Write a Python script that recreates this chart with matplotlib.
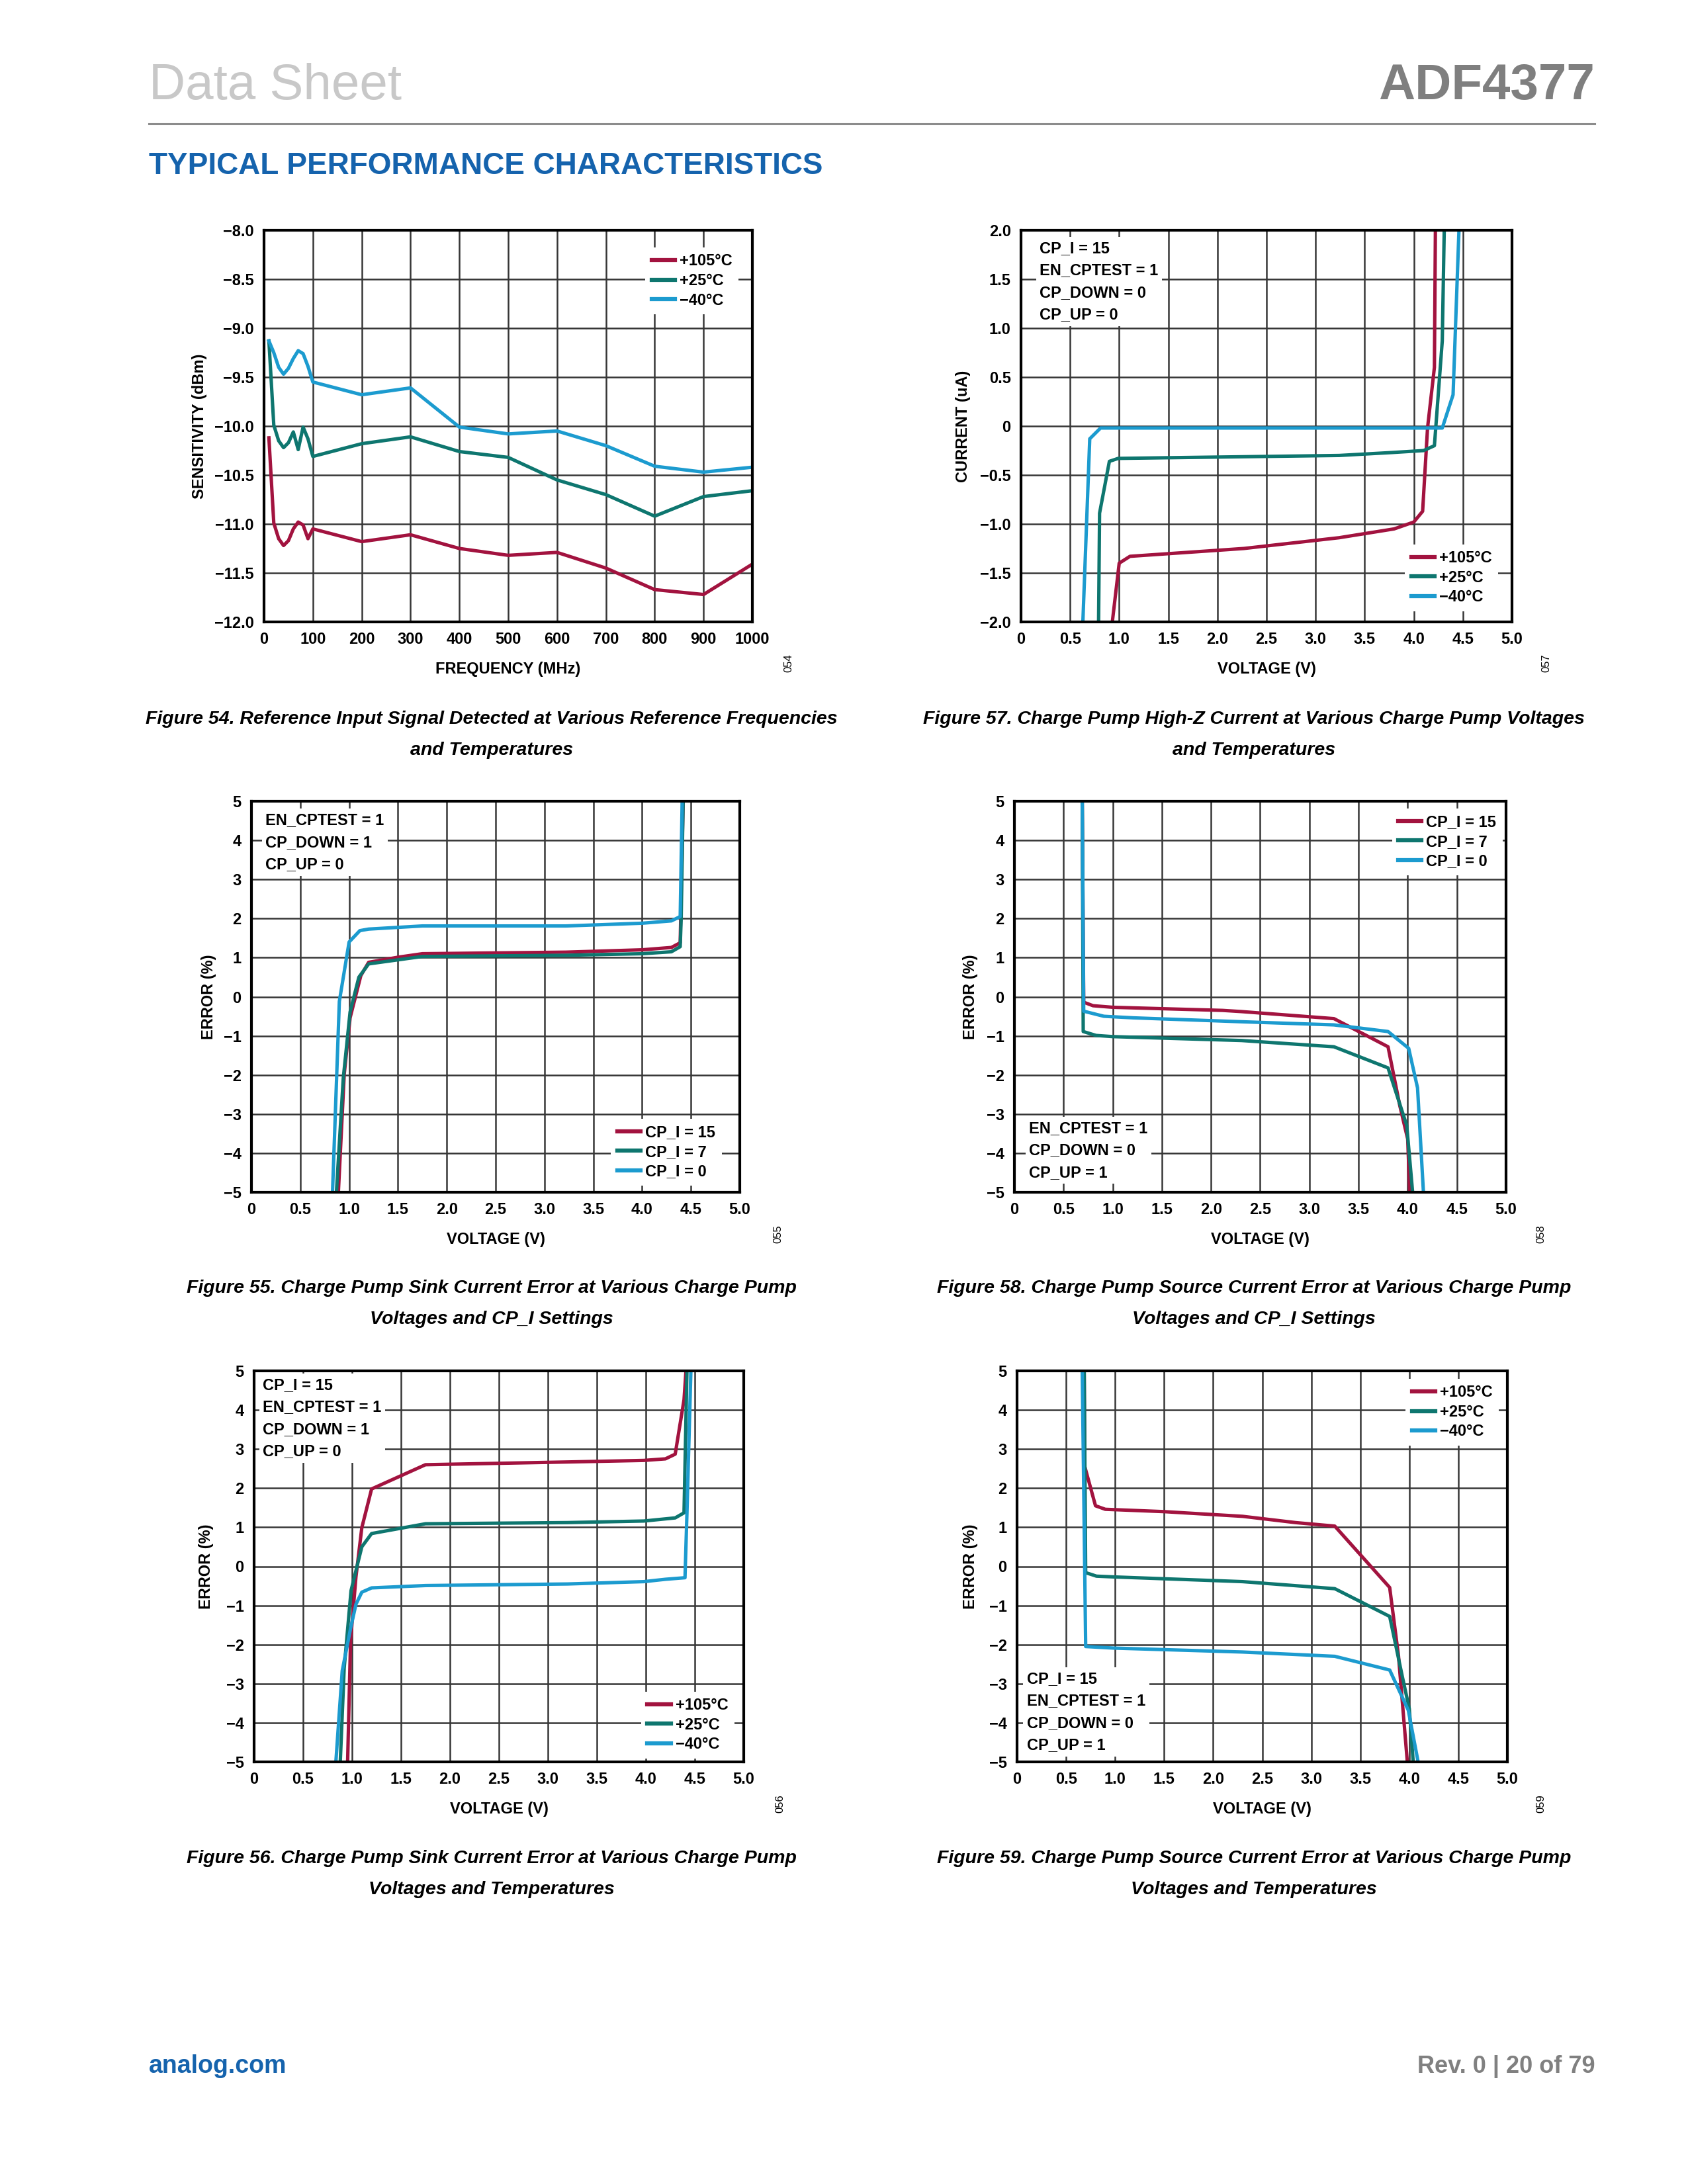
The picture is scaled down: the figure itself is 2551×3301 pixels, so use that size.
import matplotlib
matplotlib.use('Agg')
import matplotlib.pyplot as plt

plt.rcParams['font.family'] = ['Liberation Sans', 'DejaVu Sans']

W, H = 2551, 3301

RED = '#A2133F'
TEAL = '#0E766F'
BLUE = '#1C9BCF'
ADI_BLUE = '#1563AD'

# ---------- Figure 54: sensitivity vs reference frequency ----------
f54_freq = [10, 20, 30, 40, 50, 60, 70, 80, 90, 100, 200, 300, 400, 500, 600, 700, 800, 900, 1000]
f54_hot = [-10.12, -10.99, -11.15, -11.22, -11.17, -11.05, -10.98, -11.01, -11.15, -11.05,
           -11.18, -11.11, -11.25, -11.32, -11.29, -11.45, -11.67, -11.72, -11.41]
f54_room = [-9.13, -9.99, -10.15, -10.22, -10.17, -10.06, -10.24, -10.01, -10.13, -10.31,
            -10.18, -10.11, -10.26, -10.32, -10.55, -10.70, -10.92, -10.72, -10.66]
f54_cold = [-9.13, -9.25, -9.40, -9.47, -9.41, -9.31, -9.23, -9.26, -9.39, -9.55,
            -9.68, -9.61, -10.01, -10.08, -10.05, -10.20, -10.41, -10.47, -10.42]

# ---------- Figure 57: high-Z current vs voltage ----------
f57_hot_v = [0.93, 1.00, 1.11, 2.27, 3.24, 3.80, 4.00, 4.09, 4.14, 4.21, 4.22]
f57_hot_i = [-2.0, -1.40, -1.33, -1.25, -1.14, -1.05, -0.98, -0.87, -0.02, 0.60, 2.0]
f57_room_v = [0.79, 0.80, 0.90, 0.99, 3.24, 3.78, 4.10, 4.21, 4.29, 4.31]
f57_room_i = [-2.0, -0.89, -0.36, -0.33, -0.30, -0.27, -0.25, -0.20, 0.87, 2.0]
f57_cold_v = [0.63, 0.70, 0.81, 4.29, 4.40, 4.46]
f57_cold_i = [-2.0, -0.13, -0.02, -0.02, 0.32, 2.0]

# ---------- Figure 55: sink current error vs voltage, CP_I ----------
f55_cp15_v = [0.89, 0.95, 1.01, 1.12, 1.20, 1.50, 1.75, 3.22, 4.00, 4.30, 4.39, 4.42]
f55_cp15_e = [-5, -1.98, -0.54, 0.54, 0.88, 1.01, 1.10, 1.14, 1.20, 1.26, 1.38, 5]
f55_cp7_v = [0.87, 0.94, 1.01, 1.10, 1.20, 1.75, 3.22, 4.00, 4.30, 4.39, 4.40, 4.42]
f55_cp7_e = [-5, -2.09, -0.39, 0.50, 0.84, 1.03, 1.06, 1.10, 1.15, 1.28, 2.0, 5]
f55_cp0_v = [0.83, 0.90, 1.00, 1.11, 1.20, 1.75, 3.22, 4.00, 4.30, 4.39, 4.41]
f55_cp0_e = [-5, -0.12, 1.40, 1.69, 1.73, 1.81, 1.81, 1.88, 1.94, 2.05, 5]

# ---------- Figure 58: source current error vs voltage, CP_I ----------
f58_cp15_v = [0.69, 0.705, 0.80, 1.00, 2.12, 2.31, 3.25, 3.80, 3.92, 4.00, 4.02]
f58_cp15_e = [5, -0.14, -0.23, -0.27, -0.35, -0.38, -0.56, -1.28, -2.79, -3.64, -5]
f58_cp7_v = [0.69, 0.70, 0.83, 1.00, 2.31, 3.25, 3.80, 3.99, 4.05]
f58_cp7_e = [5, -0.89, -0.99, -1.02, -1.12, -1.28, -1.82, -3.29, -5]
f58_cp0_v = [0.69, 0.705, 0.91, 1.21, 2.31, 3.25, 3.80, 4.01, 4.10, 4.16]
f58_cp0_e = [5, -0.37, -0.50, -0.54, -0.64, -0.72, -0.89, -1.32, -2.33, -5]

# ---------- Figure 56: sink current error vs voltage, temperature ----------
f56_hot_v = [0.955, 0.985, 1.04, 1.10, 1.20, 1.75, 3.20, 3.98, 4.20, 4.30, 4.39, 4.41]
f56_hot_e = [-5, -1.90, -0.27, 0.99, 1.98, 2.60, 2.67, 2.71, 2.75, 2.87, 4.26, 5]
f56_room_v = [0.88, 0.92, 0.99, 1.10, 1.20, 1.75, 3.20, 3.98, 4.30, 4.39, 4.42]
f56_room_e = [-5, -2.60, -0.62, 0.50, 0.84, 1.09, 1.12, 1.16, 1.24, 1.37, 5]
f56_cold_v = [0.835, 0.90, 0.985, 1.04, 1.10, 1.20, 1.75, 3.20, 3.98, 4.20, 4.40, 4.42, 4.46]
f56_cold_e = [-5, -2.67, -1.59, -0.97, -0.66, -0.55, -0.49, -0.45, -0.39, -0.33, -0.29, 1.36, 5]

# ---------- Figure 59: source current error vs voltage, temperature ----------
f59_hot_v = [0.685, 0.69, 0.80, 0.90, 1.50, 2.30, 2.84, 3.24, 3.80, 3.89, 3.98]
f59_hot_e = [5, 2.56, 1.55, 1.46, 1.40, 1.28, 1.12, 1.03, -0.54, -2.29, -5]
f59_room_v = [0.685, 0.70, 0.81, 0.99, 2.30, 3.24, 3.80, 3.93, 4.00, 4.04]
f59_room_e = [5, -0.16, -0.25, -0.27, -0.39, -0.57, -1.28, -2.83, -3.64, -5]
f59_cold_v = [0.665, 0.70, 0.99, 2.30, 3.24, 3.80, 3.99, 4.09]
f59_cold_e = [5, -2.05, -2.09, -2.19, -2.30, -2.65, -3.68, -5]

# tick values / labels
freq_ticks = [0, 100, 200, 300, 400, 500, 600, 700, 800, 900, 1000]
freq_labels = ['0', '100', '200', '300', '400', '500', '600', '700', '800', '900', '1000']
sens_ticks = [-12.0, -11.5, -11.0, -10.5, -10.0, -9.5, -9.0, -8.5, -8.0]
sens_labels = ['\u221212.0', '\u221211.5', '\u221211.0', '\u221210.5', '\u221210.0',
               '\u22129.5', '\u22129.0', '\u22128.5', '\u22128.0']
volt_ticks = [0, 0.5, 1.0, 1.5, 2.0, 2.5, 3.0, 3.5, 4.0, 4.5, 5.0]
volt_labels = ['0', '0.5', '1.0', '1.5', '2.0', '2.5', '3.0', '3.5', '4.0', '4.5', '5.0']
cur_ticks = [-2.0, -1.5, -1.0, -0.5, 0, 0.5, 1.0, 1.5, 2.0]
cur_labels = ['\u22122.0', '\u22121.5', '\u22121.0', '\u22120.5', '0', '0.5', '1.0', '1.5', '2.0']
err_ticks = [-5, -4, -3, -2, -1, 0, 1, 2, 3, 4, 5]
err_labels = ['\u22125', '\u22124', '\u22123', '\u22122', '\u22121', '0', '1', '2', '3', '4', '5']

temp_names = ['+105\u00b0C', '+25\u00b0C', '\u221240\u00b0C']
cpi_names = ['CP_I = 15', 'CP_I = 7', 'CP_I = 0']

FS = 17
LW = 3.7


def rect(x0, y0, x1, y1):
    return [x0 / W, 1 - y1 / H, (x1 - x0) / W, (y1 - y0) / H]


def setup(ax, xt, xl, yt, yl, xlabel, ylabel, ylx, xly=-0.102):
    ax.set_xlim(xt[0], xt[-1])
    ax.set_ylim(yt[0], yt[-1])
    ax.set_xticks(xt)
    ax.set_xticklabels(xl)
    ax.set_yticks(yt)
    ax.set_yticklabels(yl)
    ax.grid(True, color='#363636', lw=1.8)
    ax.set_axisbelow(True)
    ax.tick_params(length=0, pad=11, labelsize=FS)
    for lab in ax.get_xticklabels() + ax.get_yticklabels():
        lab.set_fontweight('bold')
    for s in ax.spines.values():
        s.set_linewidth(3.0)
        s.set_zorder(6)
    ax.set_xlabel(xlabel, fontsize=FS, fontweight='bold')
    ax.set_ylabel(ylabel, fontsize=FS, fontweight='bold')
    ax.xaxis.set_label_coords(0.5, xly)
    ax.yaxis.set_label_coords(ylx, 0.5)


def legend(ax, loc, anchor):
    leg = ax.legend(loc=loc, bbox_to_anchor=anchor, frameon=True, facecolor='white',
                    edgecolor='none', framealpha=1, fancybox=False, handlelength=1.5,
                    handletextpad=0.3, labelspacing=0.28, borderpad=0.4, borderaxespad=0,
                    prop={'size': FS, 'weight': 'bold'})
    for h in leg.get_lines():
        h.set_linewidth(4.5)


def note(ax, x, y, lines):
    ax.text(x, y, '\n'.join(lines), transform=ax.transAxes, ha='left', va='top',
            fontsize=FS, fontweight='bold', linespacing=1.58,
            bbox=dict(fc='white', ec='none', pad=4))


fig = plt.figure(figsize=(W / 100, H / 100), dpi=100)

# header
fig.text(225 / W, 1 - 150 / H, 'Data Sheet', fontsize=55, color='#c8c8c8', va='baseline')
fig.text(2410 / W, 1 - 150 / H, 'ADF4377', fontsize=55, color='#7f7f7f', fontweight='bold',
         ha='right', va='baseline')
fig.add_artist(plt.Line2D([225 / W, 2410 / W], [1 - 187 / H, 1 - 187 / H], color='#8c8c8c', lw=2.2))
fig.text(225 / W, 1 - 263 / H, 'TYPICAL PERFORMANCE CHARACTERISTICS', fontsize=33,
         color=ADI_BLUE, fontweight='bold', va='baseline')

# footer
fig.text(225 / W, 1 - 3133 / H, 'analog.com', fontsize=27, color=ADI_BLUE, fontweight='bold',
         va='baseline')
fig.text(2411 / W, 1 - 3133 / H, 'Rev. 0 | 20 of 79', fontsize=26, color='#808080',
         fontweight='bold', ha='right', va='baseline')

# Figure 54
ax = fig.add_axes(rect(399, 348, 1137, 940))
ax.plot(f54_freq, f54_hot, color=RED, lw=LW, label=temp_names[0])
ax.plot(f54_freq, f54_room, color=TEAL, lw=LW, label=temp_names[1])
ax.plot(f54_freq, f54_cold, color=BLUE, lw=LW, label=temp_names[2])
setup(ax, freq_ticks, freq_labels, sens_ticks, sens_labels, 'FREQUENCY (MHz)',
      'SENSITIVITY (dBm)', -0.117)
legend(ax, 'upper right', (0.972, 0.956))

# Figure 57
ax = fig.add_axes(rect(1543, 348, 2285, 940))
ax.plot(f57_hot_v, f57_hot_i, color=RED, lw=LW, label=temp_names[0])
ax.plot(f57_room_v, f57_room_i, color=TEAL, lw=LW, label=temp_names[1])
ax.plot(f57_cold_v, f57_cold_i, color=BLUE, lw=LW, label=temp_names[2])
setup(ax, volt_ticks, volt_labels, cur_ticks, cur_labels, 'VOLTAGE (V)', 'CURRENT (uA)', -0.102)
legend(ax, 'lower right', (0.972, 0.0275))
note(ax, 0.038, 0.973, ['CP_I = 15', 'EN_CPTEST = 1', 'CP_DOWN = 0', 'CP_UP = 0'])

# Figure 55
ax = fig.add_axes(rect(380, 1211, 1118, 1802))
ax.plot(f55_cp15_v, f55_cp15_e, color=RED, lw=LW, label=cpi_names[0])
ax.plot(f55_cp7_v, f55_cp7_e, color=TEAL, lw=LW, label=cpi_names[1])
ax.plot(f55_cp0_v, f55_cp0_e, color=BLUE, lw=LW, label=cpi_names[2])
setup(ax, volt_ticks, volt_labels, err_ticks, err_labels, 'VOLTAGE (V)', 'ERROR (%)', -0.072)
legend(ax, 'lower right', (0.963, 0.0175))
note(ax, 0.029, 0.971, ['EN_CPTEST = 1', 'CP_DOWN = 1', 'CP_UP = 0'])

# Figure 58
ax = fig.add_axes(rect(1533, 1211, 2276, 1802))
ax.plot(f58_cp15_v, f58_cp15_e, color=RED, lw=LW, label=cpi_names[0])
ax.plot(f58_cp7_v, f58_cp7_e, color=TEAL, lw=LW, label=cpi_names[1])
ax.plot(f58_cp0_v, f58_cp0_e, color=BLUE, lw=LW, label=cpi_names[2])
setup(ax, volt_ticks, volt_labels, err_ticks, err_labels, 'VOLTAGE (V)', 'ERROR (%)', -0.074)
legend(ax, 'upper right', (0.993, 0.982))
note(ax, 0.030, 0.183, ['EN_CPTEST = 1', 'CP_DOWN = 0', 'CP_UP = 1'])

# Figure 56
ax = fig.add_axes(rect(384, 2072, 1124, 2663))
ax.plot(f56_hot_v, f56_hot_e, color=RED, lw=LW, label=temp_names[0])
ax.plot(f56_room_v, f56_room_e, color=TEAL, lw=LW, label=temp_names[1])
ax.plot(f56_cold_v, f56_cold_e, color=BLUE, lw=LW, label=temp_names[2])
setup(ax, volt_ticks, volt_labels, err_ticks, err_labels, 'VOLTAGE (V)', 'ERROR (%)', -0.082)
legend(ax, 'lower right', (0.981, 0.009))
note(ax, 0.018, 0.983, ['CP_I = 15', 'EN_CPTEST = 1', 'CP_DOWN = 1', 'CP_UP = 0'])

# Figure 59
ax = fig.add_axes(rect(1537, 2072, 2278, 2663))
ax.plot(f59_hot_v, f59_hot_e, color=RED, lw=LW, label=temp_names[0])
ax.plot(f59_room_v, f59_room_e, color=TEAL, lw=LW, label=temp_names[1])
ax.plot(f59_cold_v, f59_cold_e, color=BLUE, lw=LW, label=temp_names[2])
setup(ax, volt_ticks, volt_labels, err_ticks, err_labels, 'VOLTAGE (V)', 'ERROR (%)', -0.079)
legend(ax, 'upper right', (0.983, 0.98))
note(ax, 0.020, 0.232, ['CP_I = 15', 'EN_CPTEST = 1', 'CP_DOWN = 0', 'CP_UP = 1'])

# small figure ids
for x, y, s in [(1192, 1002, '054'), (2337, 1002, '057'), (1176, 1865, '055'),
                (2329, 1865, '058'), (1179, 2726, '056'), (2329, 2726, '059')]:
    fig.text(x / W, 1 - y / H, s, fontsize=12, rotation=90, ha='center', va='center')

# captions
captions = [
    (743, 1087, 'Figure 54. Reference Input Signal Detected at Various Reference Frequencies'),
    (743, 1134, 'and Temperatures'),
    (1895, 1087, 'Figure 57. Charge Pump High-Z Current at Various Charge Pump Voltages'),
    (1895, 1134, 'and Temperatures'),
    (743, 1947, 'Figure 55. Charge Pump Sink Current Error at Various Charge Pump'),
    (743, 1994, 'Voltages and CP_I Settings'),
    (1895, 1947, 'Figure 58. Charge Pump Source Current Error at Various Charge Pump'),
    (1895, 1994, 'Voltages and CP_I Settings'),
    (743, 2809, 'Figure 56. Charge Pump Sink Current Error at Various Charge Pump'),
    (743, 2856, 'Voltages and Temperatures'),
    (1895, 2809, 'Figure 59. Charge Pump Source Current Error at Various Charge Pump'),
    (1895, 2856, 'Voltages and Temperatures'),
]
for x, y, s in captions:
    fig.text(x / W, 1 - y / H, s, fontsize=20.5, fontweight='bold', style='italic',
             ha='center', va='center')

fig.savefig('out.png', dpi=100, facecolor='white')
